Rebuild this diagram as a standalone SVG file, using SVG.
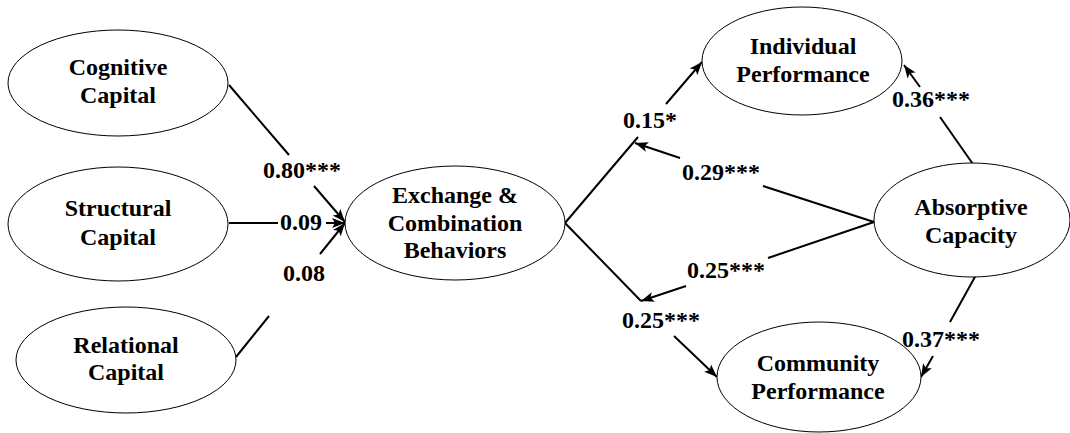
<svg xmlns="http://www.w3.org/2000/svg" width="1070" height="433" viewBox="0 0 1070 433" font-family="'Liberation Serif', 'DejaVu Serif', serif" font-weight="bold" font-size="24">
  <style>
    .node ellipse { fill: #ffffff; stroke: #000000; stroke-width: 1; }
    .node text { fill: #000000; text-anchor: middle; }
    .edge { fill: none; stroke: #000000; stroke-width: 2; marker-end: url(#arrow); }
    .coef { fill: #000000; }
  </style>
  <defs>
    <marker id="arrow" markerUnits="userSpaceOnUse" markerWidth="14" markerHeight="12" viewBox="0 0 14 12" refX="13" refY="6" orient="auto">
      <path d="M0,1 L13,6 L0,11 L3,6 Z" fill="#000000"/>
    </marker>
  </defs>
  <rect width="1070" height="433" fill="#ffffff"/>

  <!-- path connectors, broken where a coefficient sits on the line -->
  <g id="connectors">
    <path class="edge" d="M229,85 L289,155 M314,186 L345,222"/>
    <path class="edge" d="M229,223 L278,223 M326,223 L345,223"/>
    <path class="edge" d="M236,357 L269,316 M320,254 L345,223"/>
    <path class="edge" d="M565,223 L638,137 M666,104 L702,62"/>
    <path class="edge" d="M565,223 L641,301 M674,336 L717,377"/>
    <path class="edge" d="M874,222 L763,186 M680,158 L635,143"/>
    <path class="edge" d="M874,222 L768,258 M686,286 L641,301"/>
    <path class="edge" d="M975,167 L940,117 M920,87 L904,65"/>
    <path class="edge" d="M976,275 L950,322 M933,356 L921,377"/>
  </g>

  <!-- path coefficients -->
  <g id="coefficients">
    <text class="coef" x="263" y="178">0.80***</text>
    <text class="coef" x="280" y="230">0.09</text>
    <text class="coef" x="283" y="281">0.08</text>
    <text class="coef" x="623" y="128">0.15*</text>
    <text class="coef" x="682" y="180">0.29***</text>
    <text class="coef" x="687" y="278">0.25***</text>
    <text class="coef" x="622" y="328">0.25***</text>
    <text class="coef" x="892" y="107">0.36***</text>
    <text class="coef" x="902" y="347">0.37***</text>
  </g>

  <g id="cognitive-capital" class="node">
    <ellipse cx="118" cy="83" rx="110" ry="53"/>
    <text x="118" y="75">Cognitive</text>
    <text x="118" y="103">Capital</text>
  </g>
  <g id="structural-capital" class="node">
    <ellipse cx="118" cy="224" rx="110" ry="57"/>
    <text x="118" y="216">Structural</text>
    <text x="118" y="245">Capital</text>
  </g>
  <g id="relational-capital" class="node">
    <ellipse cx="126" cy="360" rx="110" ry="53"/>
    <text x="126" y="353">Relational</text>
    <text x="126" y="380">Capital</text>
  </g>
  <g id="exchange-combination" class="node">
    <ellipse cx="455" cy="223" rx="110" ry="57"/>
    <text x="455" y="203">Exchange &amp;</text>
    <text x="455" y="231">Combination</text>
    <text x="455" y="258">Behaviors</text>
  </g>
  <g id="individual-performance" class="node">
    <ellipse cx="802" cy="61" rx="100" ry="54"/>
    <text x="803" y="54">Individual</text>
    <text x="803" y="82">Performance</text>
  </g>
  <g id="absorptive-capacity" class="node">
    <ellipse cx="972" cy="220" rx="98" ry="57"/>
    <text x="971" y="215">Absorptive</text>
    <text x="971" y="243">Capacity</text>
  </g>
  <g id="community-performance" class="node">
    <ellipse cx="819" cy="377" rx="102" ry="55"/>
    <text x="818" y="371">Community</text>
    <text x="818" y="399">Performance</text>
  </g>
</svg>
